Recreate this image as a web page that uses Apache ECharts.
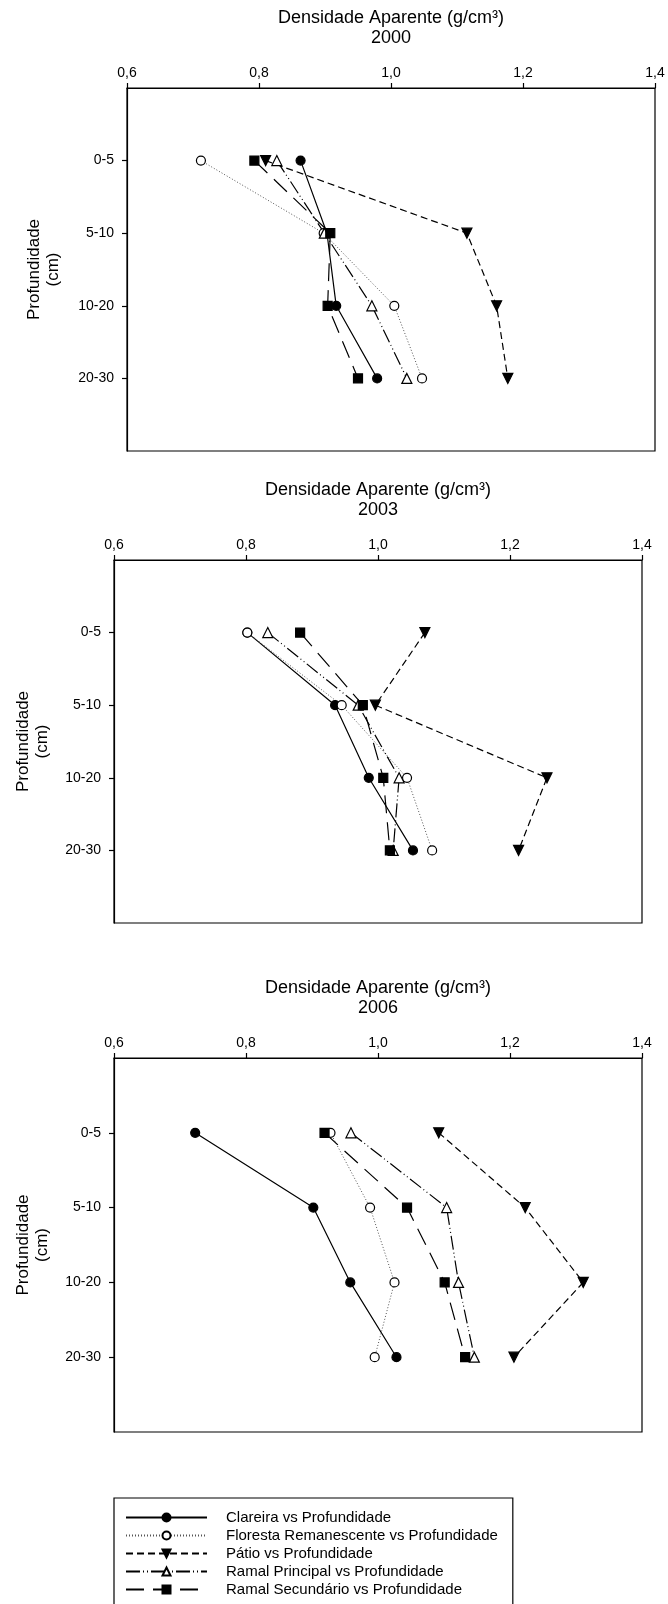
<!DOCTYPE html>
<html>
<head>
<meta charset="utf-8">
<title>Densidade Aparente</title>
<script src="https://cdn.jsdelivr.net/npm/echarts@6/dist/echarts.min.js"></script>
<style>
    html, body { margin: 0; padding: 0; background: #fff; }
    #J_echarts { width: 668px; height: 1604px; }
</style>
</head>
<body>
<div id="J_echarts"></div>
<script>
// profundidades (eixo y) e marcas do eixo x
var depths = ['0-5', '5-10', '10-20', '20-30'];
var xTicks = [0.6, 0.8, 1.0, 1.2, 1.4];
var years = ['2000', '2003', '2006'];
var seriesNames = [
    'Clareira vs Profundidade',
    'Floresta Remanescente vs Profundidade',
    'Pátio vs Profundidade',
    'Ramal Principal vs Profundidade',
    'Ramal Secundário vs Profundidade'
];

// 2000
var clareira2000 = [0.863, 0.903, 0.917, 0.979];
var floresta2000 = [0.712, 0.898, 1.005, 1.047];
var patio2000 = [0.810, 1.115, 1.160, 1.177];
var ramalPrincipal2000 = [0.827, 0.899, 0.971, 1.024];
var ramalSecundario2000 = [0.793, 0.908, 0.904, 0.950];

// 2003
var clareira2003 = [0.802, 0.935, 0.986, 1.053];
var floresta2003 = [0.802, 0.945, 1.044, 1.082];
var patio2003 = [1.071, 0.996, 1.256, 1.213];
var ramalPrincipal2003 = [0.833, 0.970, 1.032, 1.023];
var ramalSecundario2003 = [0.882, 0.977, 1.008, 1.018];

// 2006
var clareira2006 = [0.723, 0.902, 0.958, 1.028];
var floresta2006 = [0.928, 0.988, 1.025, 0.995];
var patio2006 = [1.092, 1.223, 1.311, 1.206];
var ramalPrincipal2006 = [0.959, 1.104, 1.122, 1.146];
var ramalSecundario2006 = [0.919, 1.044, 1.101, 1.132];

var valuesByYear = [
    [clareira2000, floresta2000, patio2000, ramalPrincipal2000, ramalSecundario2000],
    [clareira2003, floresta2003, patio2003, ramalPrincipal2003, ramalSecundario2003],
    [clareira2006, floresta2006, patio2006, ramalPrincipal2006, ramalSecundario2006]
];

var FONT = '"Liberation Sans", Arial, sans-serif';

// posição de cada painel
var panels = [
    { left: 127, top: 88, width: 528, height: 363, nameGap: 64 },
    { left: 114, top: 560, width: 528, height: 363, nameGap: 62 },
    { left: 114, top: 1058, width: 528, height: 374, nameGap: 62 }
];

// estilo de cada serie (linha + simbolo)
var styles = [
    { line: 'solid', width: 1.2, color: '#000', symbol: 'circle', size: 9, rotate: 0, fill: '#000' },
    { line: [1, 2], width: 1, color: '#555', symbol: 'circle', size: 9, rotate: 0, fill: '#fff' },
    { line: [7, 4], width: 1.2, color: '#000', symbol: 'triangle', size: 10, rotate: 180, fill: '#000' },
    { line: [14, 3, 1, 3, 1, 3], width: 1.2, color: '#000', symbol: 'triangle', size: 10, rotate: 0, fill: '#fff' },
    { line: [18, 9], width: 1.2, color: '#000', symbol: 'rect', size: 9, rotate: 0, fill: '#000' }
];

// categorias com folga vazia em cima e em baixo
var yCats = [''].concat(depths).concat([' ']);

var chart = echarts.init(document.getElementById('J_echarts'), null, { renderer: 'canvas' });

var grids = [], xAxes = [], yAxes = [], titles = [], series = [];

panels.forEach(function (p, i) {
    grids.push({
        left: p.left, top: p.top, width: p.width, height: p.height,
        outerBoundsMode: 'none',
        containLabel: false,
        show: true, borderColor: '#000', borderWidth: 1.2, backgroundColor: '#fff'
    });

    titles.push({
        text: 'Densidade Aparente (g/cm³)\n' + years[i],
        left: p.left + p.width / 2,
        top: p.top - 80,
        textAlign: 'center',
        padding: 0,
        textStyle: { fontFamily: FONT, fontSize: 18, fontWeight: 'normal', color: '#000', lineHeight: 20 }
    });

    xAxes.push({
        type: 'value',
        gridIndex: i,
        position: 'top',
        min: xTicks[0],
        max: xTicks[xTicks.length - 1],
        interval: 0.2,
        splitLine: { show: false },
        axisLine: { show: true, lineStyle: { color: '#000', width: 1.2 } },
        axisTick: { show: true, inside: false, length: 5, lineStyle: { color: '#000', width: 1.2 } },
        axisLabel: {
            margin: 8, color: '#000', fontFamily: FONT, fontSize: 14,
            formatter: function (v) { return v.toFixed(1).replace('.', ','); }
        }
    });

    yAxes.push({
        type: 'category',
        gridIndex: i,
        data: yCats,
        inverse: true,
        boundaryGap: false,
        name: 'Profundidade\n(cm)',
        nameLocation: 'middle',
        nameRotate: 90,
        nameGap: p.nameGap,
        nameTextStyle: { fontFamily: FONT, fontSize: 17, color: '#000', lineHeight: 19 },
        axisLine: { show: true, lineStyle: { color: '#000', width: 1.2 } },
        axisTick: {
            show: true, length: 5, lineStyle: { color: '#000', width: 1.2 },
            interval: function (idx) { return idx > 0 && idx < yCats.length - 1; }
        },
        axisLabel: {
            margin: 13, color: '#000', fontFamily: FONT, fontSize: 14,
            interval: function (idx) { return idx > 0 && idx < yCats.length - 1; }
        },
        splitLine: { show: false }
    });

    valuesByYear[i].forEach(function (vals, s) {
        var st = styles[s];
        series.push({
            name: seriesNames[s],
            type: 'line',
            xAxisIndex: i,
            yAxisIndex: i,
            data: vals.map(function (v, k) { return [v, depths[k]]; }),
            symbol: st.symbol,
            symbolSize: st.size,
            symbolRotate: st.rotate,
            showAllSymbol: true,
            lineStyle: { type: st.line, width: st.width, color: st.color },
            itemStyle: { color: st.fill, borderColor: '#000', borderWidth: 1.2 },
            animation: false,
            silent: true
        });
    });
});

var option = {
    backgroundColor: '#fff',
    animation: false,
    title: titles,
    grid: grids,
    xAxis: xAxes,
    yAxis: yAxes,
    legend: {
        data: seriesNames,
        orient: 'vertical',
        left: 114,
        top: 1498,
        height: 200,
        padding: [12, 15, 20, 11],
        itemWidth: 81,
        itemHeight: 10,
        itemGap: 3,
        selectedMode: false,
        borderColor: '#000',
        borderWidth: 1.2,
        backgroundColor: '#fff',
        textStyle: { fontFamily: FONT, fontSize: 15, color: '#000', lineHeight: 14, padding: [0, 0, 0, 14] }
    },
    series: series
};

if (option && typeof option === 'object') {
    chart.setOption(option, true);
}
</script>
</body>
</html>
